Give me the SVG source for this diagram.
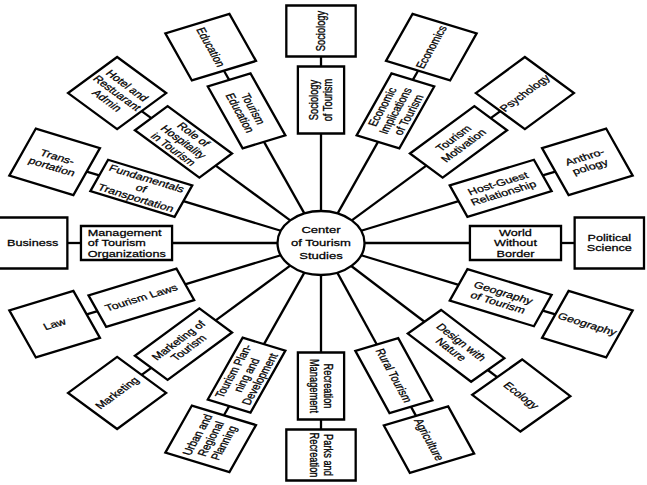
<svg xmlns="http://www.w3.org/2000/svg" width="647" height="485" viewBox="0 0 647 485">
<style>
.b{fill:#fff;stroke:#000;stroke-width:2.3;vector-effect:non-scaling-stroke}
.c line{stroke:#000;stroke-width:2.3;vector-effect:non-scaling-stroke}
text{font-family:"Liberation Sans",Arial,sans-serif;font-size:9.3px;fill:#000;stroke:#000;stroke-width:0.25;text-anchor:middle}
.ct{font-size:9.6px}
</style>
<rect width="647" height="485" fill="#fff"/>
<g transform="translate(321,243) scale(1.36,1)">
<g id="connectors" class="c">
<line x1="32" y1="0" x2="109.5" y2="0" transform="rotate(-90)"/><line x1="176.5" y1="0" x2="186.5" y2="0" transform="rotate(-90)"/>
<line x1="32" y1="0" x2="109.5" y2="0" transform="rotate(-67.5)"/><line x1="176.5" y1="0" x2="186.5" y2="0" transform="rotate(-67.5)"/>
<line x1="32" y1="0" x2="109.5" y2="0" transform="rotate(-45)"/><line x1="176.5" y1="0" x2="186.5" y2="0" transform="rotate(-45)"/>
<line x1="32" y1="0" x2="109.5" y2="0" transform="rotate(-22.5)"/><line x1="176.5" y1="0" x2="186.5" y2="0" transform="rotate(-22.5)"/>
<line x1="32" y1="0" x2="109.5" y2="0"/><line x1="176.5" y1="0" x2="186.5" y2="0"/>
<line x1="32" y1="0" x2="109.5" y2="0" transform="rotate(22.5)"/><line x1="176.5" y1="0" x2="186.5" y2="0" transform="rotate(22.5)"/>
<line x1="32" y1="0" x2="109.5" y2="0" transform="rotate(46)"/><line x1="176.5" y1="0" x2="186.5" y2="0" transform="rotate(46)"/>
<line x1="32" y1="0" x2="109.5" y2="0" transform="rotate(68)"/><line x1="176.5" y1="0" x2="186.5" y2="0" transform="rotate(68)"/>
<line x1="32" y1="0" x2="109.5" y2="0" transform="rotate(90)"/><line x1="176.5" y1="0" x2="186.5" y2="0" transform="rotate(90)"/>
<line x1="32" y1="0" x2="109.5" y2="0" transform="rotate(112.5)"/><line x1="176.5" y1="0" x2="186.5" y2="0" transform="rotate(112.5)"/>
<line x1="32" y1="0" x2="109.5" y2="0" transform="rotate(135)"/><line x1="176.5" y1="0" x2="186.5" y2="0" transform="rotate(135)"/>
<line x1="32" y1="0" x2="109.5" y2="0" transform="rotate(157.5)"/><line x1="176.5" y1="0" x2="186.5" y2="0" transform="rotate(157.5)"/>
<line x1="32" y1="0" x2="109.5" y2="0" transform="rotate(180)"/><line x1="176.5" y1="0" x2="186.5" y2="0" transform="rotate(180)"/>
<line x1="32" y1="0" x2="109.5" y2="0" transform="rotate(202.5)"/><line x1="176.5" y1="0" x2="186.5" y2="0" transform="rotate(202.5)"/>
<line x1="32" y1="0" x2="109.5" y2="0" transform="rotate(225)"/><line x1="176.5" y1="0" x2="186.5" y2="0" transform="rotate(225)"/>
<line x1="32" y1="0" x2="109.5" y2="0" transform="rotate(247.5)"/><line x1="176.5" y1="0" x2="186.5" y2="0" transform="rotate(247.5)"/>
</g>

<g id="center"><circle class="b" r="32"/><text class="ct"><tspan x="0" y="-9.6">Center</tspan><tspan x="0" y="3.4">of Tourism</tspan><tspan x="0" y="16.4">Studies</tspan></text></g>

<g id="sociology-of-tourism" transform="rotate(-90) translate(143,0)"><rect class="b" x="-33.5" y="-17" width="67" height="34"/><text><tspan x="0" y="-2.05">Sociology</tspan><tspan x="0" y="8.45">of Tourism</tspan></text></g>
<g id="sociology" transform="rotate(-90) translate(212,0)"><rect class="b" x="-25.5" y="-25.5" width="51" height="51"/><text><tspan x="0" y="3.2">Sociology</tspan></text></g>

<g id="economic-implications" transform="rotate(-67.5) translate(143,0)"><rect class="b" x="-33.5" y="-17" width="67" height="34"/><text><tspan x="0" y="-7.3">Economic</tspan><tspan x="0" y="3.2">Implications</tspan><tspan x="0" y="13.7">of Tourism</tspan></text></g>
<g id="economics" transform="rotate(-67.5) translate(212,0)"><rect class="b" x="-25.5" y="-25.5" width="51" height="51"/><text><tspan x="0" y="3.2">Economics</tspan></text></g>

<g id="tourism-motivation" transform="rotate(-45) translate(143,0)"><rect class="b" x="-33.5" y="-17" width="67" height="34"/><text><tspan x="0" y="-2.05">Tourism</tspan><tspan x="0" y="8.45">Motivation</tspan></text></g>
<g id="psychology" transform="rotate(-45) translate(212,0)"><rect class="b" x="-25.5" y="-25.5" width="51" height="51"/><text><tspan x="0" y="3.2">Psychology</tspan></text></g>

<g id="host-guest-relationship" transform="rotate(-22.5) translate(143,0)"><rect class="b" x="-33.5" y="-17" width="67" height="34"/><text><tspan x="0" y="-2.05">Host-Guest</tspan><tspan x="0" y="8.45">Relationship</tspan></text></g>
<g id="anthropology" transform="rotate(-22.5) translate(212,0)"><rect class="b" x="-25.5" y="-25.5" width="51" height="51"/><text><tspan x="0" y="-2.05">Anthro-</tspan><tspan x="0" y="8.45">pology</tspan></text></g>

<g id="world-without-border" transform="translate(143,0)"><rect class="b" x="-33.5" y="-17" width="67" height="34"/><text><tspan x="0" y="-7.3">World</tspan><tspan x="0" y="3.2">Without</tspan><tspan x="0" y="13.7">Border</tspan></text></g>
<g id="political-science" transform="translate(212,0)"><rect class="b" x="-25.5" y="-25.5" width="51" height="51"/><text><tspan x="0" y="-2.05">Political</tspan><tspan x="0" y="8.45">Science</tspan></text></g>

<g id="geography-of-tourism" transform="rotate(22.5) translate(143,0)"><rect class="b" x="-33.5" y="-17" width="67" height="34"/><text><tspan x="0" y="-2.05">Geography</tspan><tspan x="0" y="8.45">of Tourism</tspan></text></g>
<g id="geography" transform="rotate(22.5) translate(212,0)"><rect class="b" x="-25.5" y="-25.5" width="51" height="51"/><text><tspan x="0" y="3.2">Geography</tspan></text></g>

<g id="design-with-nature" transform="rotate(46) translate(143,0)"><rect class="b" x="-33.5" y="-17" width="67" height="34"/><text><tspan x="0" y="-2.05">Design with</tspan><tspan x="0" y="8.45">Nature</tspan></text></g>
<g id="ecology" transform="rotate(46) translate(212,0)"><rect class="b" x="-25.5" y="-25.5" width="51" height="51"/><text><tspan x="0" y="3.2">Ecology</tspan></text></g>

<g id="rural-tourism" transform="rotate(68) translate(143,0)"><rect class="b" x="-33.5" y="-17" width="67" height="34"/><text><tspan x="0" y="3.2">Rural Tourism</tspan></text></g>
<g id="agriculture" transform="rotate(68) translate(212,0)"><rect class="b" x="-25.5" y="-25.5" width="51" height="51"/><text><tspan x="0" y="3.2">Agriculture</tspan></text></g>

<g id="recreation-management" transform="rotate(90) translate(143,0)"><rect class="b" x="-33.5" y="-17" width="67" height="34"/><text><tspan x="0" y="-2.05">Recreation</tspan><tspan x="0" y="8.45">Management</tspan></text></g>
<g id="parks-and-recreation" transform="rotate(90) translate(212,0)"><rect class="b" x="-25.5" y="-25.5" width="51" height="51"/><text><tspan x="0" y="-2.05">Parks and</tspan><tspan x="0" y="8.45">Recreation</tspan></text></g>

<g id="tourism-planning" transform="rotate(112.5) translate(143,0)"><rect class="b" x="-33.5" y="-17" width="67" height="34"/><text transform="rotate(180)"><tspan x="0" y="-7.3">Tourism Plan-</tspan><tspan x="0" y="3.2">ning and</tspan><tspan x="0" y="13.7">Development</tspan></text></g>
<g id="urban-regional-planning" transform="rotate(112.5) translate(212,0)"><rect class="b" x="-25.5" y="-25.5" width="51" height="51"/><text transform="rotate(180)"><tspan x="0" y="-7.3">Urban and</tspan><tspan x="0" y="3.2">Regional</tspan><tspan x="0" y="13.7">Planning</tspan></text></g>

<g id="marketing-of-tourism" transform="rotate(135) translate(143,0)"><rect class="b" x="-33.5" y="-17" width="67" height="34"/><text transform="rotate(180)"><tspan x="0" y="-2.05">Marketing of</tspan><tspan x="0" y="8.45">Tourism</tspan></text></g>
<g id="marketing" transform="rotate(135) translate(212,0)"><rect class="b" x="-25.5" y="-25.5" width="51" height="51"/><text transform="rotate(180)"><tspan x="0" y="3.2">Marketing</tspan></text></g>

<g id="tourism-laws" transform="rotate(157.5) translate(143,0)"><rect class="b" x="-35" y="-17" width="70" height="34"/><text transform="rotate(180)"><tspan x="0" y="3.2">Tourism Laws</tspan></text></g>
<g id="law" transform="rotate(157.5) translate(212,0)"><rect class="b" x="-25.5" y="-25.5" width="51" height="51"/><text transform="rotate(180)"><tspan x="0" y="3.2">Law</tspan></text></g>

<g id="management-of-tourism-organizations" transform="rotate(180) translate(143,0)"><rect class="b" x="-33.5" y="-17" width="67" height="34"/><text transform="rotate(180)" style="text-anchor:start"><tspan x="-28.5" y="-7.3">Management</tspan><tspan x="-28.5" y="3.2">of Tourism</tspan><tspan x="-28.5" y="13.7">Organizations</tspan></text></g>
<g id="business" transform="rotate(180) translate(212,0)"><rect class="b" x="-25.5" y="-25.5" width="51" height="51"/><text transform="rotate(180)"><tspan x="0" y="3.2">Business</tspan></text></g>

<g id="fundamentals-of-transportation" transform="rotate(202.5) translate(143,0)"><rect class="b" x="-33.5" y="-17" width="67" height="34"/><text transform="rotate(180)"><tspan x="0" y="-7.3">Fundamentals</tspan><tspan x="0" y="3.2">of</tspan><tspan x="0" y="13.7">Transportation</tspan></text></g>
<g id="transportation" transform="rotate(202.5) translate(212,0)"><rect class="b" x="-25.5" y="-25.5" width="51" height="51"/><text transform="rotate(180)"><tspan x="0" y="-2.05">Trans-</tspan><tspan x="0" y="8.45">portation</tspan></text></g>

<g id="role-of-hospitality" transform="rotate(225) translate(143,0)"><rect class="b" x="-33.5" y="-17" width="67" height="34"/><text transform="rotate(180)"><tspan x="0" y="-7.3">Role of</tspan><tspan x="0" y="3.2">Hospitality</tspan><tspan x="0" y="13.7">in Tourism</tspan></text></g>
<g id="hotel-and-restaurant-admin" transform="rotate(225) translate(212,0)"><rect class="b" x="-25.5" y="-25.5" width="51" height="51"/><text transform="rotate(180)"><tspan x="0" y="-7.3">Hotel and</tspan><tspan x="0" y="3.2">Restuarant</tspan><tspan x="0" y="13.7">Admin</tspan></text></g>

<g id="tourism-education" transform="rotate(247.5) translate(143,0)"><rect class="b" x="-33.5" y="-17" width="67" height="34"/><text transform="rotate(180)"><tspan x="0" y="-2.05">Tourism</tspan><tspan x="0" y="8.45">Education</tspan></text></g>
<g id="education" transform="rotate(247.5) translate(212,0)"><rect class="b" x="-25.5" y="-25.5" width="51" height="51"/><text transform="rotate(180)"><tspan x="0" y="3.2">Education</tspan></text></g>
</g>
</svg>
